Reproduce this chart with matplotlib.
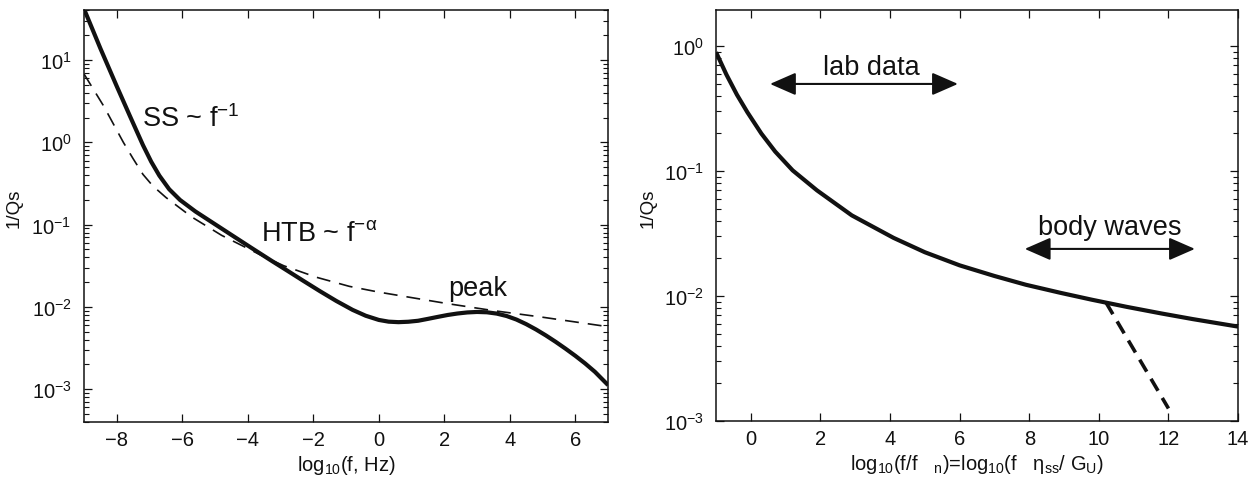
import numpy as np
import matplotlib
matplotlib.use("Agg")
import matplotlib.pyplot as plt
from matplotlib.ticker import LogLocator, NullLocator, MultipleLocator

plt.rcParams['font.family'] = ['Liberation Sans', 'DejaVu Sans']
plt.rcParams['mathtext.fontset'] = 'custom'
plt.rcParams['mathtext.rm'] = 'Liberation Sans'
plt.rcParams['mathtext.it'] = 'Liberation Sans:italic'
plt.rcParams['mathtext.default'] = 'regular'
plt.rcParams['lines.scale_dashes'] = False

# left panel: log10 f (Hz) vs log10(1/Qs)
solid_left_x = [-9.0, -8.5, -8.0, -7.6, -7.2, -6.95, -6.7, -6.4, -6.07, -5.6, -5.06, -4.5,
                -3.9, -3.3, -2.8, -2.3, -1.8, -1.3, -0.8, -0.4, 0.0, 0.3, 0.6, 0.9,
                1.2, 1.5, 1.8, 2.1, 2.4, 2.7, 3.0, 3.3, 3.6, 3.9, 4.2, 4.5,
                4.8, 5.1, 5.4, 5.7, 6.0, 6.3, 6.6, 7.0]
solid_left_log = [1.62, 1.14, 0.68, 0.32, -0.035, -0.235, -0.405, -0.57, -0.70, -0.84, -0.98, -1.125,
                  -1.28, -1.433, -1.558, -1.684, -1.808, -1.927, -2.036, -2.107, -2.158, -2.179, -2.185, -2.18,
                  -2.168, -2.145, -2.121, -2.098, -2.080, -2.067, -2.061, -2.065, -2.081, -2.11, -2.153, -2.209,
                  -2.274, -2.346, -2.424, -2.507, -2.594, -2.687, -2.789, -2.95]
dashed_left_x = [-9.0, -8.4, -7.8, -7.5, -7.2, -6.9, -6.5, -5.7, -4.8, -4.1, -3.5, -2.9,
                 -1.9, -0.9, 0.0, 0.9, 2.1, 3.5, 5.0, 7.0]
dashed_left_log = [0.83, 0.44, 0.0, -0.20, -0.39, -0.53, -0.67, -0.91, -1.13, -1.27, -1.39, -1.50,
                   -1.64, -1.75, -1.82, -1.88, -1.96, -2.045, -2.125, -2.24]

# right panel: normalised frequency
solid_right_x = [-1.0, -0.7, -0.4, -0.1, 0.3, 0.7, 1.2, 1.9, 2.9, 4.1, 5.0, 6.0, 7.0,
                 7.9, 8.9, 9.8, 10.8, 11.8, 12.7, 14.0]
solid_right_log = [-0.05, -0.23, -0.39, -0.53, -0.70, -0.845, -0.995, -1.155, -1.355, -1.535, -1.65, -1.755, -1.84,
                   -1.91, -1.975, -2.03, -2.087, -2.14, -2.185, -2.245]
dashed_right_x = [10.2, 12.0]
dashed_right_log = [-2.05, -2.90]

lab_range = [0.55, 5.95]
body_range = [7.87, 12.76]

ink = '#111111'

fig = plt.figure(figsize=(12.6, 4.81), dpi=100)
ax1 = fig.add_axes([0.0667, 0.1206, 0.4159, 0.8565])
ax2 = fig.add_axes([0.5683, 0.1227, 0.4143, 0.8544])

ax1.plot(solid_left_x, 10 ** np.array(solid_left_log), color=ink, lw=3.0,
         solid_joinstyle='round', solid_capstyle='butt')
ax1.plot(dashed_left_x, 10 ** np.array(dashed_left_log), color=ink, lw=1.2,
         dashes=(10, 6.5))
ax2.plot(solid_right_x, 10 ** np.array(solid_right_log), color=ink, lw=3.0,
         solid_joinstyle='round', solid_capstyle='butt')
ax2.plot(dashed_right_x, 10 ** np.array(dashed_right_log), color=ink, lw=2.6,
         dashes=(10, 6))

for ax in (ax1, ax2):
    ax.set_yscale('log')
    ax.yaxis.set_major_locator(LogLocator(base=10))
    ax.yaxis.set_minor_locator(LogLocator(base=10, subs=np.arange(2, 10)))
    ax.xaxis.set_major_locator(MultipleLocator(2))
    ax.xaxis.set_minor_locator(NullLocator())
    ax.tick_params(which='both', direction='in', top=True, right=True, labelsize=14.5,
                   color=ink, labelcolor=ink)
    ax.tick_params(which='major', length=6, width=0.9)
    ax.tick_params(which='minor', length=3.5, width=0.8)
    ax.tick_params(axis='y', which='major', pad=9)
    ax.tick_params(axis='x', which='major', pad=6)
    for s in ax.spines.values():
        s.set_linewidth(1.1)
        s.set_color(ink)
    ax.set_ylabel('1/Qs', fontsize=13.5, color=ink)

ax1.set_xlim(-9, 7)
ax1.set_ylim(4.0e-4, 40.5)
ax2.set_xlim(-1, 14)
ax2.set_ylim(1e-3, 1.94)

ax1.yaxis.set_label_coords(-0.118, 0.52)
ax2.yaxis.set_label_coords(-0.113, 0.52)

ax1.set_xlabel(r'log$_{10}$(f, Hz)', fontsize=14.5, color=ink, labelpad=3)
ax2.set_xlabel(r'log$_{10}$(f/f   $_{n}$)=log$_{10}$(f   $\eta_{ss}$/ G$_{U}$)',
               fontsize=14.5, color=ink, labelpad=3)

ax1.text(-7.23, 1.58, r'SS ~ f$^{-1}$', fontsize=19.5, color=ink, ha='left', va='baseline')
ax1.text(-3.61, 0.065, r'HTB ~ f$^{-\alpha}$', fontsize=19.5, color=ink, ha='left', va='baseline')
ax1.text(2.12, 0.014, 'peak', fontsize=19.5, color=ink, ha='left', va='baseline')

ax2.text(np.mean(lab_range) + 0.2, 0.597, 'lab data', fontsize=19.5, color=ink,
         ha='center', va='baseline')
ax2.text(np.mean(body_range), 0.0313, 'body waves', fontsize=19.5, color=ink,
         ha='center', va='baseline')

arrow_style = "<|-|>,head_length=0.8,head_width=0.35"
ax2.annotate('', xy=(lab_range[1], 0.497), xytext=(lab_range[0], 0.497),
             arrowprops=dict(arrowstyle=arrow_style, lw=1.5, color=ink,
                             shrinkA=0, shrinkB=0, mutation_scale=20))
ax2.annotate('', xy=(body_range[1], 0.0238), xytext=(body_range[0], 0.0238),
             arrowprops=dict(arrowstyle=arrow_style, lw=1.5, color=ink,
                             shrinkA=0, shrinkB=0, mutation_scale=20))

fig.savefig('out.png', dpi=100)
